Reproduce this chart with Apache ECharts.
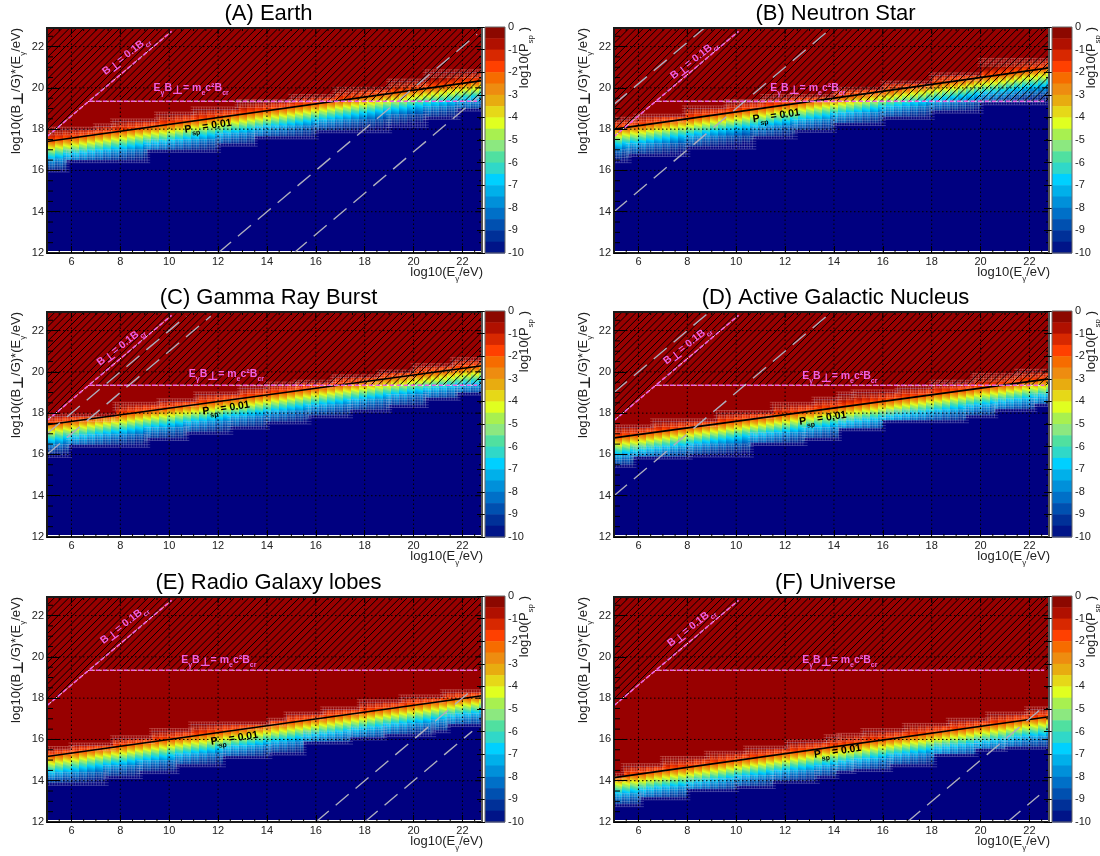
<!DOCTYPE html>
<html><head><meta charset="utf-8"><style>html,body{margin:0;padding:0;background:#fff}#c{width:1100px;height:856px}</style>
<script src="https://cdn.jsdelivr.net/npm/echarts@6/dist/echarts.min.js"></script></head>
<body><div id="c"></div>
<script>
const FONT = '"Liberation Sans", Arial, sans-serif';
const panelTitles = ['(A) Earth','(B) Neutron Star','(C) Gamma Ray Burst','(D) Active Galactic Nucleus','(E) Radio Galaxy lobes','(F) Universe'];
// y of the P_sp = 0.01 line at the left (x = 5) and right (x = 22.8) of each panel
const lineLeft  = [17.4, 18.0, 17.44, 16.8, 15.17, 14.15];
const lineRight = [20.35, 20.97, 20.3, 19.66, 18.12, 17.1];
// staircase edges [x end, y]
const bottomA = [[5.8,16.05],[9.1,16.5],[12,17],[13.5,17.3],[16,17.65],[19,17.95],[20.5,18.2],[21.8,18.6],[22.8,19.0]];
const bottomB = [[5.6,16.5],[8,16.8],[10.7,17.16],[12.4,17.65],[14,17.97],[16,18.3],[18,18.6],[20,18.9],[22.8,19.3]];
const bottomC = [[5.9,15.98],[9.1,16.47],[10.7,16.8],[12.5,17.1],[14,17.35],[15.7,17.6],[17.4,17.9],[19,18.17],[20.5,18.4],[21.8,18.75],[22.8,19.0]];
const bottomD = [[5.8,15.5],[8.1,15.9],[10.6,16],[12.8,16.56],[14.2,16.8],[16,17.27],[19.4,17.66],[20.6,17.9],[22.2,18.2],[22.8,18.45]];
const bottomE = [[7.4,13.9],[8.8,14.23],[10.3,14.47],[12.2,14.8],[14.1,15.2],[15.5,15.37],[17.4,15.9],[18.8,16.1],[20.8,16.26],[21.4,16.45],[22.8,16.75]];
const bottomF = [[6.1,12.87],[8,13.2],[10,13.6],[11.5,13.75],[13.3,14],[14.1,14.24],[14.8,14.48],[16.3,14.57],[18.1,14.8],[19.8,15.3],[21,15.55],[22.8,15.65]];
const topA = [[7,17.97],[7.7,18.13],[9.5,18.37],[11,18.7],[12.8,18.95],[15,19.3],[16.8,19.55],[19,19.9],[20.5,20.3],[22.8,20.75]];
const topB = [[5.9,18.45],[7.9,18.6],[9.6,19],[11.1,19.3],[14,19.55],[16,19.9],[18,20.2],[20,20.6],[22.8,21.3]];
const topC = [[7.8,17.84],[9.6,18.4],[11.1,18.57],[12.9,18.9],[14,19.2],[15.2,19.38],[16.7,19.47],[18.6,19.73],[20,19.96],[21.6,20.27],[22.8,20.56]];
const topD = [[6.6,17.3],[9.2,17.6],[11.5,18],[13.2,18.4],[14.2,18.65],[14.8,18.9],[16.6,19],[18,19.2],[19.7,19.47],[21.5,19.8],[22.8,20]];
const topE = [[6,15.53],[7.7,15.7],[9.3,16.05],[10.9,16.4],[14.1,16.72],[14.8,16.9],[16.3,17.2],[17.8,17.45],[19.5,17.8],[21.2,18.03],[22.8,18.28]];
const topF = [[5.4,14.23],[7,14.7],[8.8,15.05],[10.4,15.3],[12.1,15.55],[13.7,15.85],[14.2,16.1],[15.2,16.17],[16.9,16.4],[18.7,16.65],[20.3,16.9],[21.9,17.2],[22.8,17.45]];
const bottomStairs = [bottomA,bottomB,bottomC,bottomD,bottomE,bottomF];
const topStairs = [topA,topB,topC,topD,topE,topF];
// grey dashed reference lines: [x1,y1,x2,y2]
const dashA = [[12,12,22.6,22.6],[15.1,12,22.7,19.6]];
const dashB = [[5,19.2,8.7,22.9],[5,14,13.8,22.8]];
const dashC = [[5,17,10.7,22.7],[5,16,11.7,22.7]];
const dashD = [[5,19,8.8,22.8],[5,14,13.7,22.7]];
const dashE = [[16,12,22.5,18.5],[18,12,22.4,16.4]];
const dashF = [[17,12,22.4,17.4],[21.1,12,22.4,13.3]];
const dashLines = [dashA,dashB,dashC,dashD,dashE,dashF];
// annotation anchors [x,y]
const crLabelPos = [[8.27,21.5],[8.31,21.3],[8.05,21.17],[8.03,21.24],[8.19,21.5],[8.19,21.37]];
const eLabelPos  = [[10.9,19.9],[12.93,19.9],[12.34,19.8],[14.24,19.72],[12.03,19.78],[14.24,19.77]];
const pLabelPos  = [[11.6,18.07],[11.65,18.57],[12.34,18.17],[13.55,17.68],[12.68,15.98],[14.16,15.35]];
// critical lines
const hatchEdge = [[5,17.64],[6.71,19.35],[22.8,19.35]];
const critDiagonal = [5,17.64,10.1,22.74];
const critHorizontal = [6.71,19.35,22.6,19.35];
const xMajor = [6,8,10,12,14,16,18,20,22];
const yMajor = [12,14,16,18,20,22];
const xMinor = [5.5,6.5,7,7.5,8.5,9,9.5,10.5,11,11.5,12.5,13,13.5,14.5,15,15.5,16.5,17,17.5,18.5,19,19.5,20.5,21,21.5,22.5];
const yMinor = [12.5,13,13.5,14.5,15,15.5,16.5,17,17.5,18.5,19,19.5,20.5,21,21.5,22.5];
const xRange = [5,22.8], yRange = [12,22.9];
const heatX = [5,22.8], heatY = [12.1,22.85];
// colour scale, top to bottom, one per half decade
const barColors = ['#8c0800','#b01000','#d82800','#ff4000','#f66c00','#ee8c10','#e8ac10','#e6d818','#e0ff20','#a8f050','#8ce880','#50e0a0','#30d8c8','#00d0ff','#00b0ea','#0090da','#0070c8','#0050b0','#003098','#001488'];
// position of each decade of log10(P) relative to the P = 0.01 line, in y units
const decadeOffsets = [0.55,0.28,0,-0.16,-0.32,-0.48,-0.64,-0.82,-1.02,-1.26,-1.6];

const NAVY='#000080', RED='#980000', PINK='#f060e4', GREY='#aeaebe';
const rowTop=[28,312,597], colLeft=[47,614], plotW=435, plotH=225;

function gradStops(){
  const n=barColors.length, top=decadeOffsets[0], bot=decadeOffsets[10], stops=[];
  for(let i=0;i<n;i++){
    const lev=(i+0.5)/2, a=Math.floor(lev), f=lev-a;
    const off=decadeOffsets[a]+(decadeOffsets[a+1]-decadeOffsets[a])*f;
    stops.push({offset:(top-off)/(top-bot),color:barColors[i]});
  }
  stops.unshift({offset:0,color:RED});
  stops.push({offset:1,color:NAVY});
  return stops;
}
const STOPS=gradStops();

function heatRender(p){
  return function(params,api){
    const c=(x,y)=>api.coord([x,y]);
    const ch=[];
    const tl=c(heatX[0],heatY[1]), br=c(heatX[1],heatY[0]);
    ch.push({type:'rect',shape:{x:tl[0],y:tl[1],width:br[0]-tl[0],height:br[1]-tl[1]},style:{fill:NAVY}});
    const stair=(arr)=>{const pts=[];let x0=heatX[0];arr.forEach(s=>{pts.push(c(x0,s[1]));pts.push(c(s[0],s[1]));x0=s[0];});return pts;};
    const tp=stair(topStairs[p]), bp=stair(bottomStairs[p]);
    ch.push({type:'polygon',shape:{points:[tl,...tp,[br[0],tl[1]]]},style:{fill:RED}});
    const yu=api.size([1,1])[1];
    const x0=tl[0],x1=br[0],w=8,t=0.32,nl=Math.sqrt(1+t*t);
    const top=decadeOffsets[0],bot=decadeOffsets[10],D=(top-bot)*yu;
    const left=c(heatX[0],lineLeft[p]), right=c(heatX[1],lineRight[p]);
    const cols=[];
    for(let x=x0;x<x1;x+=w){
      const xm=x+w/2;
      const ly=left[1]+(right[1]-left[1])*(xm-left[0])/(right[0]-left[0]);
      const py=ly-top*yu;
      const dd=D/nl;
      cols.push({type:'rect',shape:{x:x,y:tl[1],width:Math.min(w+0.6,x1-x),height:br[1]-tl[1]},
        style:{fill:{type:'linear',global:true,x:xm,y:py,x2:xm-t/nl*dd,y2:py+1/nl*dd,colorStops:STOPS}}});
    }
    ch.push({type:'group',children:cols,clipPath:{type:'polygon',shape:{points:[...tp,...bp.slice().reverse()]}}});
    const fr=[];
    const seg=(x0,x1,y,dir,rows,col)=>{
      const a=c(x0,y),b=c(x1,y);const ya=a[1];
      for(let r=-1;r<rows;r++){const yy=ya+dir*r*2.6;fr.push({type:'line',shape:{x1:a[0]-3,y1:yy,x2:b[0]+3,y2:yy},style:{stroke:col,lineWidth:1}});}
      for(let xx=a[0];xx<b[0];xx+=2.6){fr.push({type:'line',shape:{x1:xx,y1:ya-dir*2.6,x2:xx,y2:ya+dir*(rows-1)*2.6},style:{stroke:col,lineWidth:1}});}
    };
    let xp=heatX[0];bottomStairs[p].forEach(s=>{seg(xp,s[0],s[1],-1,5,'rgba(205,205,225,0.28)');xp=s[0];});
    xp=heatX[0];topStairs[p].forEach(s=>{seg(xp,s[0],s[1],1,3,'rgba(255,205,190,0.28)');xp=s[0];});
    ch.push({type:'group',children:fr,clipPath:{type:'rect',shape:{x:tl[0],y:tl[1],width:br[0]-tl[0],height:br[1]-tl[1]}}});
    return {type:'group',children:ch};
  };
}
function richSet(sz,color,weight,pScale){
  const s={fontSize:sz,fontFamily:FONT,fontWeight:weight,color:color,fill:color};
  const small=Math.round(sz*0.64);
  return {
    n:{...s,verticalAlign:'top',padding:[0,0,Math.round(sz*0.28),0]},
    s:{...s,fontSize:small,verticalAlign:'bottom'},
    p:{...s,fontSize:Math.round(sz*pScale),fontFamily:'"DejaVu Sans"',fontWeight:'bold',verticalAlign:'bottom'}
  };
}
function overlayRender(p){
  return function(params,api){
    const c=(x,y)=>api.coord([x,y]);
    const ch=[];
    const tl=c(heatX[0],heatY[1]), br=c(heatX[1],heatY[0]);
    const pts=[...hatchEdge.map(e=>c(e[0],e[1])),[br[0],tl[1]],[tl[0],tl[1]]];
    const hs=[];const h=c(5,hatchEdge[0][1])[1]-tl[1];
    for(let x=tl[0]-h;x<br[0];x+=7.2){hs.push({type:'line',shape:{x1:x,y1:tl[1]+h,x2:x+h,y2:tl[1]},style:{stroke:'#000',lineWidth:1}});}
    ch.push({type:'group',children:hs,clipPath:{type:'polygon',shape:{points:pts}}});
    const g0=c(xRange[0],yRange[0]),g1=c(xRange[1],yRange[1]);
    xMajor.forEach(v=>{const a=c(v,yRange[0])[0];ch.push({type:'line',shape:{x1:a,y1:g0[1],x2:a,y2:g1[1]},style:{stroke:'#000',lineWidth:1,lineDash:[1.5,2.5]}});});
    yMajor.forEach(v=>{const a=c(xRange[0],v)[1];ch.push({type:'line',shape:{x1:g0[0],y1:a,x2:g1[0],y2:a},style:{stroke:'#000',lineWidth:1,lineDash:[1.5,2.5]}});});
    const l=c(xRange[0],lineLeft[p]), r=c(xRange[1],lineRight[p]);
    ch.push({type:'line',shape:{x1:l[0],y1:l[1],x2:r[0],y2:r[1]},style:{stroke:'#000',lineWidth:1.6}});
    dashLines[p].forEach(d=>{const a=c(d[0],d[1]),b=c(d[2],d[3]);ch.push({type:'line',shape:{x1:a[0],y1:a[1],x2:b[0],y2:b[1]},style:{stroke:GREY,lineWidth:1.4,lineDash:[17,9]}});});
    [critDiagonal,critHorizontal].forEach(d=>{const a=c(d[0],d[1]),b=c(d[2],d[3]);
      ch.push({type:'line',shape:{x1:a[0],y1:a[1],x2:b[0],y2:b[1]},style:{stroke:'#fff',lineWidth:0.9,lineDash:[3,4],lineDashOffset:4}});
      ch.push({type:'line',shape:{x1:a[0],y1:a[1],x2:b[0],y2:b[1]},style:{stroke:PINK,lineWidth:1.6,lineDash:[4,3]}});
    });
    const txt=(pos,text,rot,color,sz)=>{const q=c(pos[0],pos[1]);ch.push({type:'text',x:q[0],y:q[1],rotation:rot,originX:0,originY:0,
      style:{text:text,rich:richSet(sz,color,'bold',1.1),align:'center',verticalAlign:'middle',fontFamily:FONT}});};
    txt(crLabelPos[p],'{n|B}{p|⊥}{n|= 0.1B}{s|cr}',Math.PI*0.21,PINK,10.5);
    txt(eLabelPos[p],'{n|E}{s|γ}{n|B}{p|⊥}{n|= m}{s|e}{n|c²B}{s|cr}',0,PINK,10.5);
    txt(pLabelPos[p],'{n|P}{s|sp}{n| = 0.01}',0.15,'#000',10.5);
    const tk=(x1,y1,x2,y2)=>ch.push({type:'line',shape:{x1,y1,x2,y2},style:{stroke:'#000',lineWidth:1}});
    xMinor.forEach(v=>{const a=c(v,yRange[0])[0];tk(a,g0[1],a,g0[1]-3);tk(a,g1[1],a,g1[1]+3);});
    xMajor.forEach(v=>{const a=c(v,yRange[0])[0];tk(a,g1[1],a,g1[1]+6);});
    yMinor.forEach(v=>{const a=c(xRange[0],v)[1];tk(g0[0],a,g0[0]+6,a);tk(g1[0],a,g1[0]-3,a);});
    yMajor.forEach(v=>{const a=c(xRange[0],v)[1];tk(g1[0],a,g1[0]-6,a);});
    ch.push({type:'rect',shape:{x:g0[0],y:g1[1],width:g1[0]-g0[0],height:g0[1]-g1[1]},style:{fill:'none',stroke:'#1a1a1a',lineWidth:2}});
    ch.push({type:'line',shape:{x1:g1[0],y1:g1[1],x2:g1[0],y2:g0[1]},style:{stroke:'#555',lineWidth:2}});
    return {type:'group',children:ch};
  };
}
const grids=[],xAxes=[],yAxes=[],series=[],titles=[],graphics=[];
const axisFont={fontFamily:FONT,fontSize:11,color:'#222'};
panelTitles.forEach((name,p)=>{
  const col=p%2,row=(p-col)/2,L=colLeft[col],Tp=rowTop[row];
  const gi=grids.length;
  grids.push({left:L,top:Tp,width:plotW,height:plotH,show:false});
  xAxes.push({gridIndex:gi,type:'value',min:xRange[0],max:xRange[1],z:10,axisLine:{show:false},splitLine:{show:false},
    axisTick:{inside:true,length:7,lineStyle:{color:'#000'},customValues:xMajor},
    axisLabel:{...axisFont,margin:3,customValues:xMajor,showMinLabel:true,showMaxLabel:true}});
  yAxes.push({gridIndex:gi,type:'value',min:yRange[0],max:yRange[1],z:10,axisLine:{show:false},splitLine:{show:false},
    axisTick:{inside:true,length:13,lineStyle:{color:'#000'},customValues:yMajor},
    axisLabel:{...axisFont,margin:3,customValues:yMajor}});
  const one={type:'custom',xAxisIndex:gi,yAxisIndex:gi,coordinateSystem:'cartesian2d',encode:{x:0,y:1},data:[[xRange[0],yRange[0]]],silent:true,animation:false};
  series.push({...one,z:2,renderItem:heatRender(p)});
  series.push({...one,z:3,renderItem:overlayRender(p)});
  const bi=grids.length;
  grids.push({left:L+438,top:Tp-1,width:20,height:plotH+1,show:false});
  xAxes.push({gridIndex:bi,type:'value',min:0,max:1,show:false});
  yAxes.push({gridIndex:bi,type:'value',min:-10,max:0,interval:1,position:'right',z:10,axisLine:{show:false},splitLine:{show:false},
    axisTick:{inside:true,length:8,lineStyle:{color:'#000'}},axisLabel:{...axisFont,margin:3}});
  series.push({type:'custom',xAxisIndex:bi,yAxisIndex:bi,coordinateSystem:'cartesian2d',encode:{x:0,y:1},silent:true,animation:false,z:2,
    data:barColors.map((c,i)=>[0,-i/2,c]),
    renderItem:function(params,api){
      const top=api.value(1);const a=api.coord([0,top]),b=api.coord([1,top-0.5]);
      return {type:'rect',shape:{x:a[0],y:a[1],width:b[0]-a[0],height:b[1]-a[1]+0.5},style:{fill:barColors[params.dataIndex]}};
    }});
  titles.push({text:name,left:L+plotW/2-1,top:Tp-30,textAlign:'center',textStyle:{fontFamily:FONT,fontSize:22,fontWeight:'normal',color:'#000'}});
  const r=richSet(13,'#222','normal',1.1);
  graphics.push({type:'text',x:L+plotW+1,y:Tp+plotH+13,style:{text:'{n|log10(E}{s|γ}{n|/eV)}',rich:r,align:'right',verticalAlign:'top',fontFamily:FONT},silent:true});
  graphics.push({type:'text',x:L-29,y:Tp,rotation:Math.PI/2,originX:0,originY:0,style:{text:'{n|log10((B}{p|⊥}{n|/G)*(E}{s|γ}{n|/eV)}',rich:r,align:'right',verticalAlign:'middle',fontFamily:FONT},silent:true});
  graphics.push({type:'text',x:L+plotW+44,y:Tp-1,rotation:Math.PI/2,originX:0,originY:0,style:{text:'{n|log10(P}{s|sp}{n| )}',rich:r,align:'right',verticalAlign:'middle',fontFamily:FONT},silent:true});
  graphics.push({type:'rect',shape:{x:L+438,y:Tp-1,width:20,height:plotH+1},style:{fill:'none',stroke:'#666',lineWidth:1},silent:true,z:20});
});
const chart=echarts.init(document.getElementById('c'),null,{renderer:'canvas',width:1100,height:856});
chart.setOption({animation:false,backgroundColor:'#fff',title:titles,grid:grids,xAxis:xAxes,yAxis:yAxes,series:series,graphic:graphics});
</script></body></html>
